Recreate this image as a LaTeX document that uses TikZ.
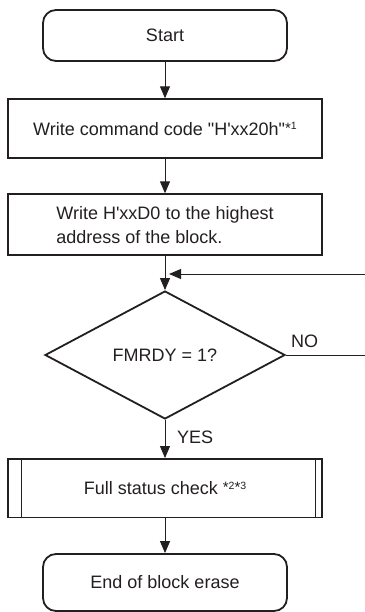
\documentclass[tikz,border=0pt]{standalone}
\usepackage{fontspec}
\setmainfont{Liberation Sans}[Ligatures=TeXOff]
\usetikzlibrary{shapes.geometric,arrows.meta}
\definecolor{ink}{HTML}{231F20}
\newcommand{\noteast}{\raisebox{1.8pt}{\fontsize{15}{15}\selectfont *}}
\newcommand{\notedig}[1]{\raisebox{5.6pt}{\fontsize{10.5}{10.5}\selectfont #1}}
\begin{document}
\begin{tikzpicture}[x=1pt,y=-1pt,
  every node/.style={font=\fontsize{18}{24}\selectfont, text=ink},
  terminal/.style={draw=ink, line width=1.8pt, rounded corners=13pt, minimum width=244pt, minimum height=51pt, inner sep=0pt},
  procbox/.style={draw=ink, line width=1.8pt, minimum width=314pt, inner sep=0pt},
  decision/.style={draw=ink, line width=1.8pt, diamond, aspect=1.875, minimum width=240pt, minimum height=128pt, inner sep=0pt},
  flow/.style={draw=ink, line width=1pt, -{Triangle[length=12pt,width=10pt]}},
  plain/.style={draw=ink, line width=1pt},
  lbl/.style={font=\fontsize{18}{18}\selectfont, inner sep=0pt}]
\useasboundingbox (0,0) rectangle (364,612);
\node[terminal] (start) at (165,35.5) {Start};
\node[procbox, minimum height=59pt] (cmd) at (165,128.7) {Write command code "H'xx20h"\noteast\notedig{1}};
\node[procbox, minimum height=61pt, align=left] (wr) at (165,224.7) {Write H'xxD0 to the highest\\address of the block.};
\node[decision] (dec) at (165,355) {FMRDY = 1?};
\node[procbox, minimum height=58.5pt] (chk) at (165,488.2) {Full status check \noteast\notedig{2}\noteast\notedig{3}};
\draw[ink, line width=1pt] ([xshift=14pt]chk.north west) -- ([xshift=14pt]chk.south west);
\draw[ink, line width=1pt] ([xshift=-7pt]chk.north east) -- ([xshift=-7pt]chk.south east);
\node[terminal, minimum height=57pt] (fin) at (165,582.5) {End of block erase};
\coordinate (join) at (165,274);
\coordinate (rb) at (368,355);
\coordinate (rt) at (368,274);
\draw[flow] (start) -- (cmd);
\draw[flow] (cmd) -- (wr);
\draw[flow] (wr) -- (dec.north);
\draw[plain] (dec.east) -- (rb) -- (rt);
\draw[flow] (rt) -- ([xshift=4pt]join);
\draw[flow] (dec.south) -- (chk);
\draw[flow] (chk) -- (fin);
\node[lbl, anchor=west] (no) at (291,341) {NO};
\node[lbl, anchor=west] (yes) at (177,437) {YES};
\end{tikzpicture}
\end{document}
